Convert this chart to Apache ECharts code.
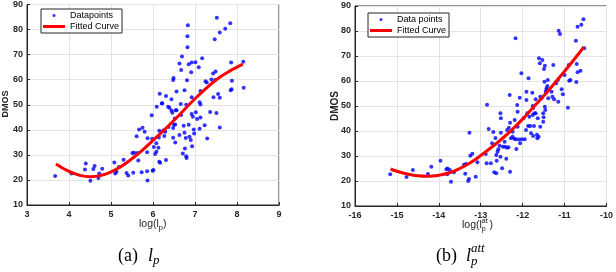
<!DOCTYPE html>
<html>
<head>
<meta charset="utf-8">
<script src="https://cdn.jsdelivr.net/npm/echarts@6/dist/echarts.min.js"></script>
<style>html,body{margin:0;padding:0;background:#fff;}#c{width:616px;height:272px;}</style>
</head>
<body>
<div id="c"></div>
<script>
// ---------- DATA ----------
// (a) l_p : scatter
const lpX = [3.67,4.06,4.40,4.38,4.61,4.58,4.51,4.70,4.72,4.79,5.08,5.10,5.13,5.19,5.30,5.37,5.41,5.53,5.51,5.61,5.63,5.67,5.75,5.65,5.73,5.80,5.86,5.87,5.86,5.87,5.98,5.97,5.99,6.02,6.05,6.08,6.08,6.13,6.09,6.15,6.14,6.16,6.15,6.17,6.22,6.25,6.27,6.29,6.31,6.31,6.36,6.37,6.44,6.44,6.46,6.48,6.49,6.48,6.52,6.50,6.53,6.53,6.56,6.56,6.48,6.63,6.67,6.66,6.67,6.63,6.69,6.71,6.73,6.75,6.75,6.76,6.78,6.79,6.80,6.79,6.81,6.82,6.82,6.83,6.85,6.85,6.87,6.90,6.92,6.91,6.92,6.92,6.93,6.95,6.97,6.98,7.01,7.02,7.05,7.09,7.11,7.13,7.13,7.11,7.17,7.13,7.23,7.25,7.29,7.28,7.36,7.39,7.43,7.49,7.44,7.47,7.48,7.51,7.52,7.55,7.59,7.59,7.59,7.72,7.84,7.86,7.88,7.85,7.87,8.15,8.16,6.39,6.54,6.01,6.21,5.55];
const lpY = [21.6,22.6,26.6,24.2,25.6,24.4,19.7,20.8,22.6,24.5,27.0,22.6,23.3,25.2,28.1,22.8,21.8,22.9,30.7,37.4,30.7,40.1,40.8,27.8,23.1,39.2,23.5,19.8,31.0,36.6,36.4,45.8,23.7,33.1,30.3,31.2,34.6,32.8,49.2,39.6,36.9,54.4,27.3,26.9,50.6,39.7,37.5,39.2,53.5,28.0,49.2,41.1,52.2,47.7,46.8,36.8,60.7,59.9,44.5,42.0,42.1,34.9,47.8,55.3,40.7,66.5,63.9,50.3,45.9,37.9,69.3,30.5,41.6,55.8,38.8,32.5,36.7,29.5,28.8,50.0,59.8,72.9,77.3,81.7,66.2,42.0,37.2,35.9,66.9,63.0,53.0,46.3,33.4,45.2,40.1,38.5,67.0,47.0,44.3,65.0,51.0,50.1,44.9,40.4,68.6,55.5,41.8,59.4,36.5,58.9,47.1,60.1,62.5,63.3,53.0,76.1,59.9,46.7,84.7,54.3,52.8,40.9,78.8,80.3,82.5,66.9,59.6,55.8,56.2,67.2,56.8,48.8,47.8,24.0,50.5,30.8];
// (a) fitted curve
const lpFitX = [3.69,4.0,4.25,4.5,4.75,5.0,5.25,5.5,5.75,6.0,6.25,6.5,6.75,7.0,7.25,7.5,7.75,8.0,8.14];
const lpFitY = [26.4,23.4,21.9,21.3,21.8,23.2,25.5,28.5,31.9,35.8,39.7,43.8,48.1,52.4,56.3,59.9,62.7,65.0,66.2];

// (b) l_p^att : scatter
const lpattX = [-15.16,-14.77,-14.62,-14.26,-14.18,-13.96,-13.82,-13.79,-13.80,-13.74,-13.71,-13.64,-13.40,-13.37,-13.35,-13.30,-13.28,-13.27,-13.25,-13.20,-13.12,-13.08,-12.88,-12.85,-12.86,-12.81,-12.76,-12.73,-12.70,-12.68,-12.65,-12.63,-12.63,-12.62,-12.60,-12.58,-12.55,-12.53,-12.52,-12.52,-12.53,-12.49,-12.47,-12.43,-12.42,-12.37,-12.34,-12.39,-12.37,-12.33,-12.31,-12.30,-12.30,-12.28,-12.24,-12.24,-12.20,-12.16,-12.09,-12.19,-12.17,-12.15,-12.13,-12.12,-12.12,-12.07,-12.06,-12.03,-12.02,-11.98,-11.95,-11.92,-11.91,-11.91,-11.89,-11.87,-11.86,-11.84,-11.82,-11.80,-11.77,-11.76,-11.75,-11.76,-11.75,-11.73,-11.72,-11.69,-11.69,-11.66,-11.65,-11.64,-11.61,-11.59,-11.62,-11.58,-11.58,-11.55,-11.53,-11.51,-11.51,-11.50,-11.49,-11.48,-11.47,-11.47,-11.46,-11.45,-11.43,-11.43,-11.41,-11.40,-11.39,-11.31,-11.29,-11.27,-11.25,-11.20,-11.16,-11.15,-11.14,-11.11,-11.07,-11.04,-11.00,-10.89,-10.86,-10.90,-10.92,-10.73,-10.72,-10.71,-10.69,-10.69,-10.62,-10.60,-10.55,-10.53];
const lpattY = [22.7,21.6,24.4,22.8,25.7,28.1,24.7,25.0,22.7,24.4,19.7,23.5,26.5,22.9,26.8,20.0,20.8,39.3,30.1,30.9,21.7,27.5,30.8,50.5,27.1,40.8,27.1,35.1,39.6,23.5,37.2,23.1,30.4,28.1,31.7,32.7,34.1,47.1,45.1,39.3,29.7,25.1,33.7,35.7,33.7,33.3,33.5,28.9,40.4,41.3,54.4,23.7,43.3,37.1,39.7,37.7,36.9,36.7,36.6,44.4,77.1,32.8,50.4,47.7,41.7,53.3,35.1,63.1,36.7,45.1,36.7,40.4,52.4,55.7,47.1,42.0,61.1,45.7,42.0,39.1,55.3,50.0,49.2,46.4,38.0,42.0,47.1,52.7,47.1,38.5,37.1,45.1,69.1,67.1,37.7,41.7,53.7,53.1,68.4,47.1,43.7,45.5,64.8,59.7,66.1,49.7,48.4,55.7,56.4,57.1,58.0,60.4,53.1,55.7,53.7,66.4,52.7,59.1,60.4,51.7,80.1,78.8,56.7,54.7,62.4,60.1,60.4,66.4,49.3,76.1,59.6,66.8,81.7,63.5,64.1,82.5,84.7,73.1];
// (b) fitted curve
const lpattFitX = [-15.15,-15.0,-14.75,-14.5,-14.25,-14.0,-13.75,-13.5,-13.25,-13.0,-12.75,-12.5,-12.25,-12.0,-11.75,-11.5,-11.25,-11.0,-10.75,-10.54];
const lpattFitY = [24.8,23.9,22.8,22.1,21.9,22.3,23.3,25.0,27.3,30.2,33.4,36.8,40.6,44.8,49.4,54.0,58.9,63.9,69.1,73.6];

// axes
const yTicks = [10,20,30,40,50,60,70,80,90];
const xTicksA = [3,4,5,6,7,8,9];
const xTicksB = [-16,-15,-14,-13,-12,-11,-10];

// ---------- CHART ----------
const zip = (xs, ys) => xs.map((x, i) => [x, ys[i]]);
const tickFont = {fontFamily: 'Liberation Sans, Arial', fontSize: 9, fontWeight: 'bold', color: '#262626'};
const axisLineStyle = {lineStyle: {color: '#262626', width: 1}};
function xAxis(gi, ticks) {
  return {type: 'value', gridIndex: gi, min: ticks[0], max: ticks[ticks.length - 1], interval: 1,
    axisLine: {show: true, onZero: false, ...axisLineStyle}, axisTick: {show: true, inside: true, length: 3, lineStyle: {color: '#262626'}},
    axisLabel: {...tickFont, margin: 5}, splitLine: {show: true, lineStyle: {color: '#e3e3e3', width: 1}}};
}
function yAxis(gi) {
  return {type: 'value', gridIndex: gi, min: yTicks[0], max: yTicks[yTicks.length - 1], interval: 10,
    axisLine: {show: true, onZero: false, ...axisLineStyle}, axisTick: {show: true, inside: true, length: 3, lineStyle: {color: '#262626'}},
    axisLabel: {...tickFont, margin: 4}, splitLine: {show: true, lineStyle: {color: '#e3e3e3', width: 1}}};
}
const legendBase = {orient: 'vertical', itemWidth: 22, itemHeight: 3, itemGap: 2, padding: [2, 3, 2, 2],
  borderColor: '#262626', borderWidth: 1, backgroundColor: '#fff', selectedMode: false,
  textStyle: {fontFamily: 'Liberation Sans, Arial', fontSize: 9, color: '#000'}};
const serif = 'Liberation Serif, Times New Roman, serif';
const sans = 'Liberation Sans, Arial';

const chart = echarts.init(document.getElementById('c'), null, {renderer: 'canvas'});
chart.setOption({
  animation: false,
  backgroundColor: '#fff',
  grid: [
    {left: 27, top: 3, width: 252, height: 202, show: true, borderColor: '#262626', borderWidth: 1},
    {left: 355, top: 6, width: 255, height: 200, show: true, borderColor: '#262626', borderWidth: 1}
  ],
  xAxis: [xAxis(0, xTicksA), xAxis(1, xTicksB)],
  yAxis: [yAxis(0), yAxis(1)],
  legend: [
    {...legendBase, left: 41, top: 9, data: [{name: 'Datapoints', icon: 'circle', itemStyle: {color: '#0000ff'}}, {name: 'Fitted Curve', icon: 'rect'}]},
    {...legendBase, left: 368, top: 13, data: [{name: 'Data points', icon: 'circle', itemStyle: {color: '#0000ff'}}, {name: 'Fitted Curve', icon: 'rect'}]}
  ],
  series: [
    {name: 'Datapoints', type: 'scatter', xAxisIndex: 0, yAxisIndex: 0, data: zip(lpX, lpY), symbol: 'circle', symbolSize: 4, itemStyle: {color: '#0000ff'}},
    {name: 'Fitted Curve', type: 'line', xAxisIndex: 0, yAxisIndex: 0, data: zip(lpFitX, lpFitY), smooth: true, showSymbol: false, symbol: 'none', lineStyle: {color: '#ff0000', width: 3}, itemStyle: {color: '#ff0000'}},
    {name: 'Data points', type: 'scatter', xAxisIndex: 1, yAxisIndex: 1, data: zip(lpattX, lpattY), symbol: 'circle', symbolSize: 4, itemStyle: {color: '#0000ff'}},
    {name: 'Fitted Curve', type: 'line', xAxisIndex: 1, yAxisIndex: 1, data: zip(lpattFitX, lpattFitY), smooth: true, showSymbol: false, symbol: 'none', lineStyle: {color: '#ff0000', width: 3}, itemStyle: {color: '#ff0000'}}
  ],
  graphic: [
    // y-axis titles
    {type: 'text', x: 6, y: 104, rotation: Math.PI / 2, style: {text: 'DMOS', font: 'bold 9px ' + sans, fill: '#262626', textAlign: 'center', textVerticalAlign: 'middle'}},
    {type: 'text', x: 335, y: 106, rotation: Math.PI / 2, style: {text: 'DMOS', font: 'bold 10px ' + sans, fill: '#262626', textAlign: 'center', textVerticalAlign: 'middle'}},
    // x-axis title (a): log(l_p)
    {type: 'text', x: 139, y: 224, style: {text: 'log(l', font: '10.5px ' + sans, fill: '#262626', textVerticalAlign: 'middle'}},
    {type: 'text', x: 158.5, y: 228, style: {text: 'p', font: '8px ' + sans, fill: '#262626', textVerticalAlign: 'middle'}},
    {type: 'text', x: 163, y: 224, style: {text: ')', font: '10.5px ' + sans, fill: '#262626', textVerticalAlign: 'middle'}},
    // x-axis title (b): log(l_p^at)
    {type: 'text', x: 462, y: 225, style: {text: 'log(l', font: '10.5px ' + sans, fill: '#262626', textVerticalAlign: 'middle'}},
    {type: 'text', x: 481.5, y: 220.5, style: {text: 'at', font: '7.5px ' + sans, fill: '#262626', textVerticalAlign: 'middle'}},
    {type: 'text', x: 481.5, y: 229, style: {text: 'p', font: '7.5px ' + sans, fill: '#262626', textVerticalAlign: 'middle'}},
    {type: 'text', x: 489.5, y: 225, style: {text: ')', font: '10.5px ' + sans, fill: '#262626', textVerticalAlign: 'middle'}},
    // captions
    {type: 'text', x: 118, y: 256, style: {text: '(a)', font: '18px ' + serif, fill: '#000', textVerticalAlign: 'middle'}},
    {type: 'text', x: 148, y: 256, style: {text: 'l', font: 'italic 18px ' + serif, fill: '#000', textVerticalAlign: 'middle'}},
    {type: 'text', x: 153, y: 261, style: {text: 'p', font: 'italic 13px ' + serif, fill: '#000', textVerticalAlign: 'middle'}},
    {type: 'text', x: 436, y: 256, style: {text: '(b)', font: '18px ' + serif, fill: '#000', textVerticalAlign: 'middle'}},
    {type: 'text', x: 466, y: 256, style: {text: 'l', font: 'italic 18px ' + serif, fill: '#000', textVerticalAlign: 'middle'}},
    {type: 'text', x: 471, y: 249, style: {text: 'att', font: 'italic 13px ' + serif, fill: '#000', textVerticalAlign: 'middle'}},
    {type: 'text', x: 471, y: 262, style: {text: 'p', font: 'italic 13px ' + serif, fill: '#000', textVerticalAlign: 'middle'}}
  ]
});
</script>
</body>
</html>
